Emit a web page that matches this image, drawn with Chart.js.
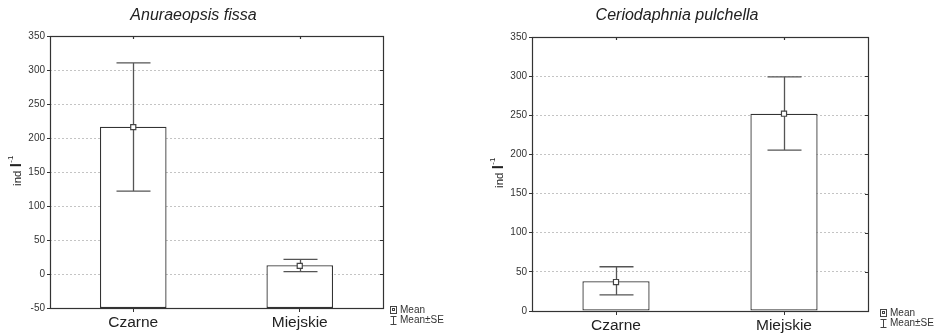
<!DOCTYPE html>
<html>
<head>
<meta charset="utf-8">
<script src="https://cdn.jsdelivr.net/npm/chart.js@4.4.1/dist/chart.umd.min.js"></script>
<style>
  html, body { margin: 0; padding: 0; background: #fff; }
  .wrap { display: flex; width: 934px; height: 333px; }
  .box { width: 467px; height: 333px; }
</style>
</head>
<body>
<div class="wrap">
  <div class="box"><canvas id="chartA" width="467" height="333"></canvas></div>
  <div class="box"><canvas id="chartC" width="467" height="333"></canvas></div>
</div>
<script>
// data
const categories = ["Czarne", "Miejskie"];

const anuraeMean = [216.5, 12.8];
const anuraeMarker = [216, 12];
const anuraeLow = [122, 3.5];
const anuraeHigh = [310.5, 21.5];

const ceriodMean = [38, 252];
const ceriodMarker = [37, 252];
const ceriodLow = [20.5, 205.5];
const ceriodHigh = [56.5, 299];

const FONT = "'Liberation Sans', Arial, sans-serif";
const LINE = "#333";

// frame, whiskers, titles, y label, legend
const decor = {
  id: "decor",
  afterDatasetDraw(chart, args, opts) {
    if (args.index !== 0) return;
    const { ctx } = chart;
    const x = chart.scales.x, y = chart.scales.y;
    ctx.save();
    ctx.strokeStyle = "#555";
    ctx.lineWidth = 1.3;
    opts.low.forEach((lo, i) => {
      const cx = Math.round(x.getPixelForValue(i)) + 0.5;
      const yl = y.getPixelForValue(lo), yh = y.getPixelForValue(opts.high[i]);
      ctx.beginPath();
      ctx.moveTo(cx, yl); ctx.lineTo(cx, yh);
      ctx.moveTo(cx - 17, yl); ctx.lineTo(cx + 17, yl);
      ctx.moveTo(cx - 17, yh); ctx.lineTo(cx + 17, yh);
      ctx.stroke();
    });
    ctx.restore();
  },
  afterDraw(chart, args, opts) {
    const { ctx, chartArea: a } = chart;
    const x = chart.scales.x, y = chart.scales.y;
    ctx.save();
    // frame
    ctx.strokeStyle = LINE;
    ctx.lineWidth = 1.2;
    ctx.strokeRect(Math.round(a.left) + 0.5, Math.round(a.top) + 0.5,
      Math.round(a.right - a.left), Math.round(a.bottom - a.top));
    // inner ticks on right and top
    ctx.beginPath();
    y.ticks.forEach(t => {
      const py = Math.round(y.getPixelForValue(t.value)) + 0.5;
      ctx.moveTo(a.right - 3, py); ctx.lineTo(a.right, py);
    });
    categories.forEach((c, i) => {
      const px = Math.round(x.getPixelForValue(i)) + 0.5;
      ctx.moveTo(px, a.top); ctx.lineTo(px, a.top + 3);
    });
    ctx.stroke();

    // title
    ctx.fillStyle = "#222";
    ctx.font = "italic 16px " + FONT;
    ctx.textAlign = "center";
    ctx.textBaseline = "alphabetic";
    ctx.fillText(opts.title, opts.titleX, 20);

    // y label: ind l^-1
    ctx.save();
    ctx.translate(opts.ylabelX, opts.ylabelY);
    ctx.rotate(-Math.PI / 2);
    ctx.textAlign = "left";
    ctx.textBaseline = "alphabetic";
    const f1 = "11.5px " + FONT, f2 = "bold 15px " + FONT, f3 = "8px " + FONT;
    ctx.font = f1; const w1 = ctx.measureText("ind ").width;
    ctx.font = f2; const w2 = ctx.measureText("l").width;
    ctx.font = f3; const w3 = ctx.measureText("-1").width;
    const sx = -(w1 + w2 + w3) / 2;
    ctx.fillStyle = "#222";
    ctx.font = f1; ctx.fillText("ind ", sx, 4);
    ctx.font = f2; ctx.fillText("l", sx + w1, 4);
    ctx.font = f3; ctx.fillText("-1", sx + w1 + w2 + 0.5, -4.5);
    ctx.restore();

    // legend
    const lx = opts.legendX, ly = opts.legendY;
    ctx.strokeStyle = "#444";
    ctx.lineWidth = 1;
    ctx.strokeRect(lx + 0.5, ly - 3.5, 6, 7);
    ctx.strokeRect(lx + 2.5, ly - 1.5, 2, 2);
    const iy = ly + 10.5;
    ctx.beginPath();
    ctx.moveTo(lx + 3.5, iy - 4); ctx.lineTo(lx + 3.5, iy + 4);
    ctx.moveTo(lx + 0.5, iy - 4); ctx.lineTo(lx + 6.5, iy - 4);
    ctx.moveTo(lx + 0.5, iy + 4); ctx.lineTo(lx + 6.5, iy + 4);
    ctx.stroke();
    ctx.fillStyle = "#333";
    ctx.font = "10px " + FONT;
    ctx.textAlign = "left";
    ctx.textBaseline = "middle";
    ctx.fillText("Mean", lx + 10, ly);
    ctx.fillText("Mean\u00b1SE", lx + 10, iy);
    ctx.restore();
  }
};

function makeChart(id, means, markers, low, high, yMin, cfg) {
  return new Chart(document.getElementById(id), {
    type: "bar",
    data: {
      labels: categories,
      datasets: [
        {
          data: means.map(v => [yMin, v]),
          backgroundColor: "#fff",
          borderColor: LINE,
          borderWidth: 1.3,
          borderSkipped: false,
          barPercentage: 0.4,
          categoryPercentage: 1,
          order: 2
        },
        {
          type: "line",
          data: markers,
          showLine: false,
          pointStyle: "rect",
          pointRadius: 3.6,
          pointBackgroundColor: "#fff",
          pointBorderColor: "#444",
          pointBorderWidth: 1.2,
          order: 1
        }
      ]
    },
    options: {
      responsive: false,
      animation: false,
      events: [],
      layout: { padding: { left: 0, right: cfg.padRight, top: cfg.padTop, bottom: 0 } },
      plugins: {
        legend: { display: false },
        tooltip: { enabled: false },
        decor: { low, high, ...cfg }
      },
      scales: {
        x: {
          offset: true,
          afterFit: s => { s.height = cfg.xHeight; },
          grid: { drawOnChartArea: false, offset: false, tickLength: 4, tickColor: LINE },
          border: { display: false },
          ticks: { color: "#222", padding: 1, font: { family: FONT, size: 15.5 } }
        },
        y: {
          min: yMin,
          max: 350,
          afterFit: s => { s.width = cfg.yWidth; },
          grid: { color: "#c4c4c4", lineWidth: 1, tickLength: 3, tickColor: LINE, tickBorderDash: [] },
          border: { display: false, dash: [2, 2] },
          ticks: { stepSize: 50, color: "#333", padding: 2, font: { family: FONT, size: 10 } }
        }
      }
    },
    plugins: [decor]
  });
}

makeChart("chartA", anuraeMean, anuraeMarker, anuraeLow, anuraeHigh, -50, {
  title: "Anuraeopsis fissa", titleX: 193.5,
  ylabelX: 17, ylabelY: 171,
  legendX: 390, legendY: 310,
  padRight: 84, padTop: 36, yWidth: 50, xHeight: 25
});

makeChart("chartC", ceriodMean, ceriodMarker, ceriodLow, ceriodHigh, 0, {
  title: "Ceriodaphnia pulchella", titleX: 210,
  ylabelX: 32, ylabelY: 173,
  legendX: 413, legendY: 313,
  padRight: 66, padTop: 37, yWidth: 65, xHeight: 22
});
</script>
</body>
</html>
